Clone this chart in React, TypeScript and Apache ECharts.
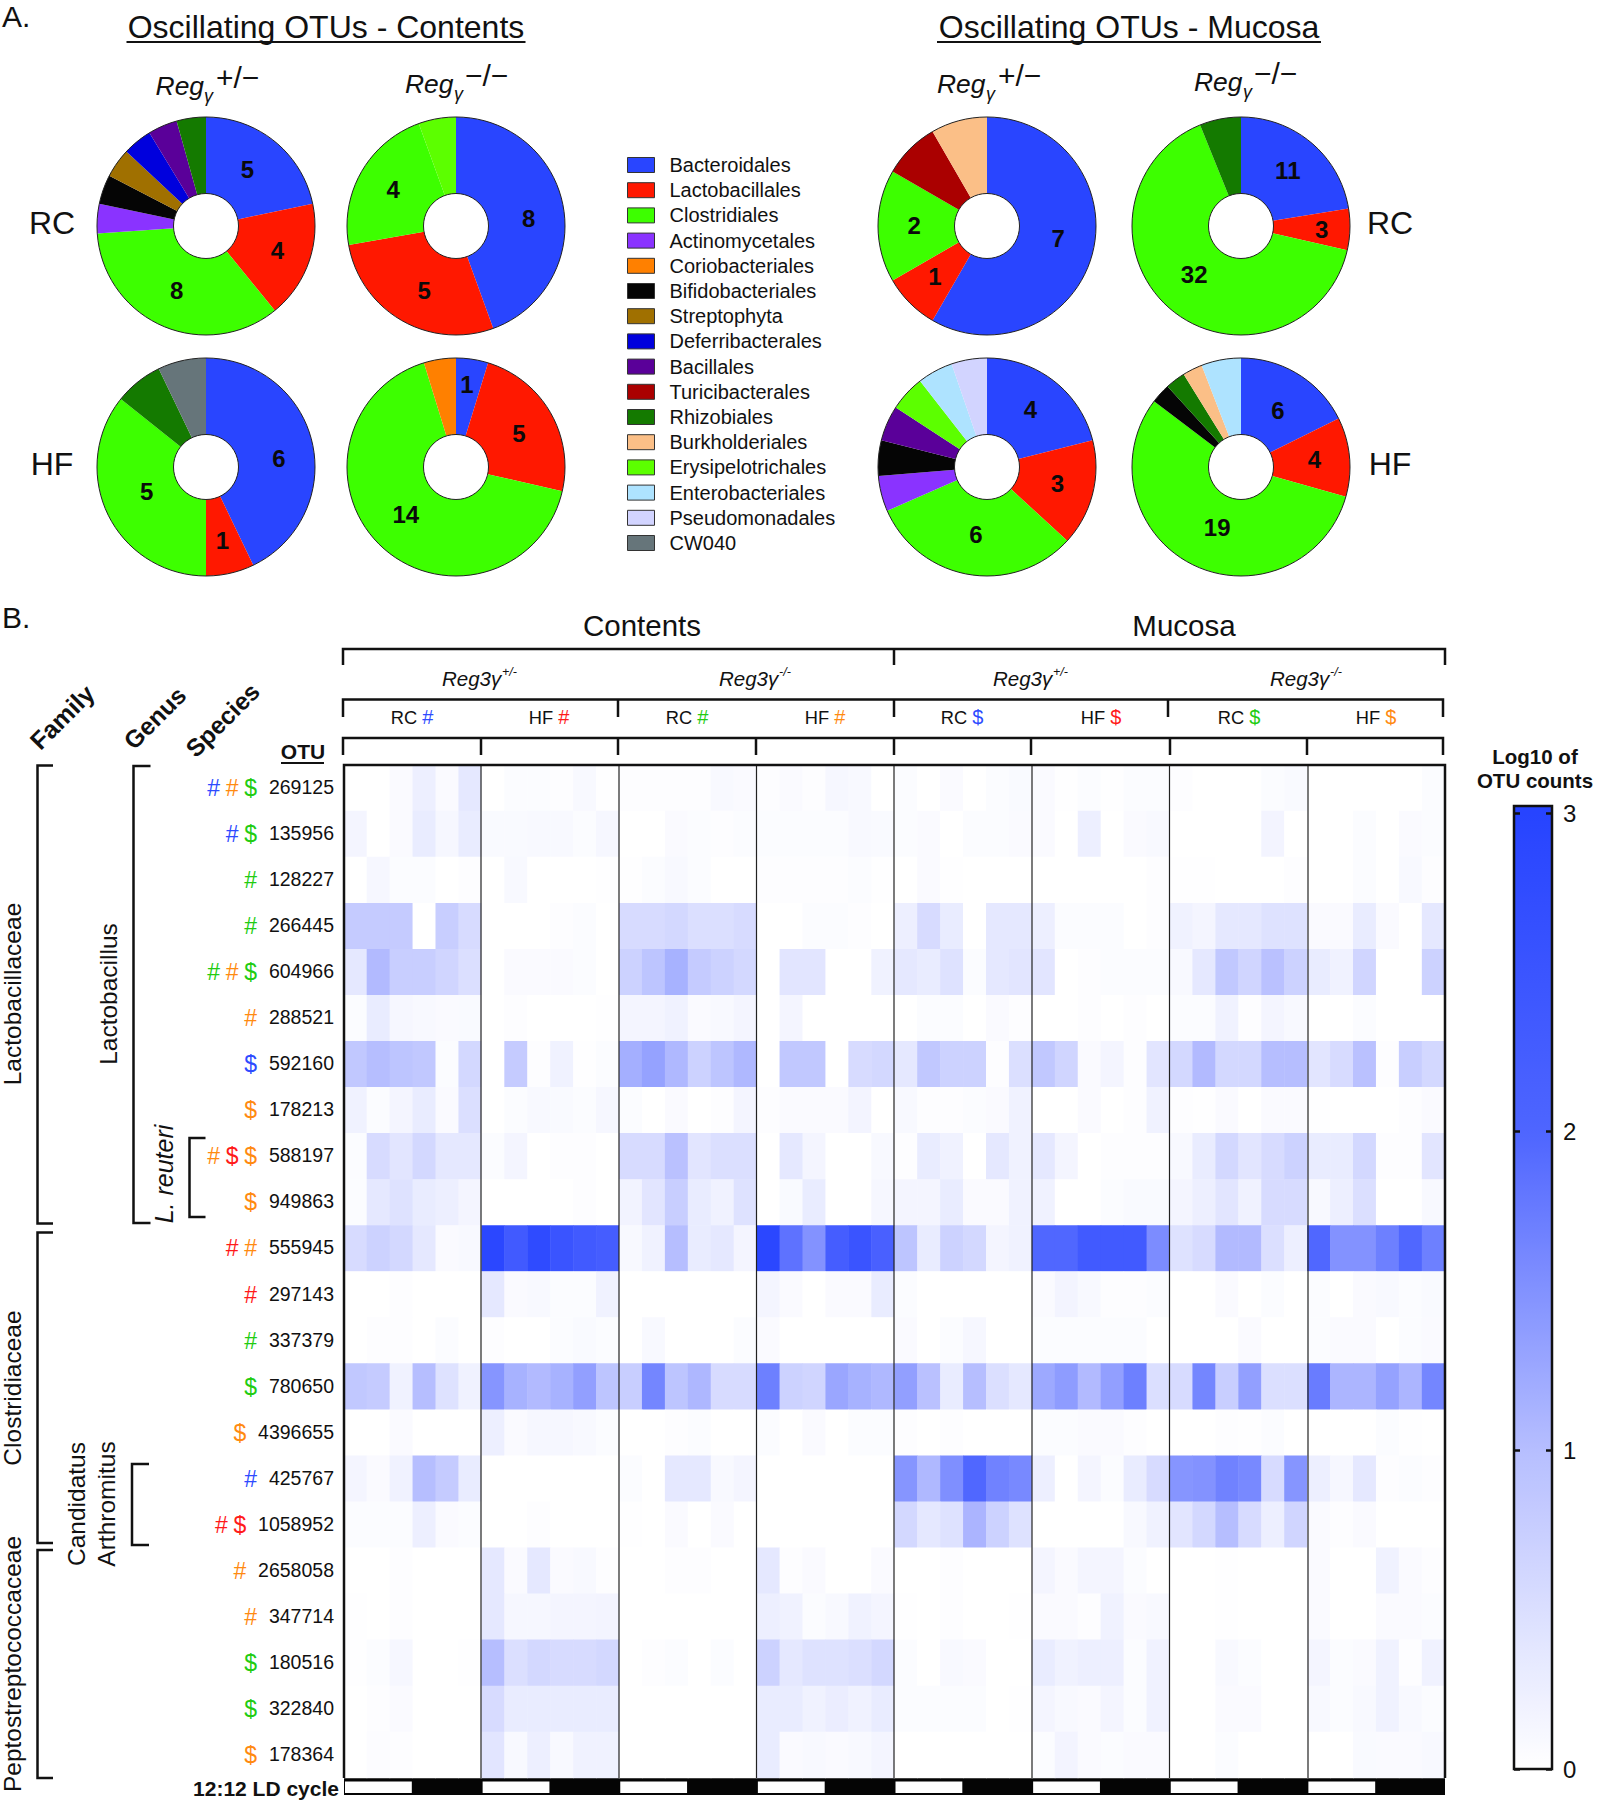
import React, { useEffect, useRef } from "react";
import * as echarts from "echarts";

const FONT = "'Liberation Sans', Arial, sans-serif";

// ---------- Panel A ----------
const orders = [
  "Bacteroidales", "Lactobacillales", "Clostridiales", "Actinomycetales",
  "Coriobacteriales", "Bifidobacteriales", "Streptophyta", "Deferribacterales",
  "Bacillales", "Turicibacterales", "Rhizobiales", "Burkholderiales",
  "Erysipelotrichales", "Enterobacteriales", "Pseudomonadales", "CW040",
];
const orderColors = [
  "#2945FF", "#FF1800", "#3DFF00", "#8A33FF", "#FF8000", "#050505", "#A07000", "#0000DD",
  "#5A0099", "#AA0000", "#147A00", "#FBBF87", "#5CFF00", "#AEE3FF", "#D2D4FF", "#66757A",
];
const contentsHetRC = [5, 4, 8, 1, 0, 1, 1, 1, 1, 0, 1, 0, 0, 0, 0, 0];
const contentsKoRC = [8, 5, 4, 0, 0, 0, 0, 0, 0, 0, 0, 0, 1, 0, 0, 0];
const contentsHetHF = [6, 1, 5, 0, 0, 0, 0, 0, 0, 0, 1, 0, 0, 0, 0, 1];
const contentsKoHF = [1, 5, 14, 0, 1, 0, 0, 0, 0, 0, 0, 0, 0, 0, 0, 0];
const mucosaHetRC = [7, 1, 2, 0, 0, 0, 0, 0, 0, 1, 0, 1, 0, 0, 0, 0];
const mucosaKoRC = [11, 3, 32, 0, 0, 0, 0, 0, 0, 0, 3, 0, 0, 0, 0, 0];
const mucosaHetHF = [4, 3, 6, 1, 0, 1, 0, 0, 1, 0, 0, 0, 1, 1, 1, 0];
const mucosaKoHF = [6, 4, 19, 0, 0, 1, 0, 0, 0, 0, 1, 1, 0, 2, 0, 0];

// ---------- Panel B ----------
const otus = [
  "269125", "135956", "128227", "266445", "604966", "288521", "592160", "178213", "588197", "949863", "555945",
  "297143", "337379", "780650", "4396655", "425767", "1058952", "2658058", "347714", "180516", "322840", "178364",
];
const otuMarks = [
  "hb ho dg", "hb dg", "hg", "hg", "hg ho dg", "ho", "db", "do", "ho dr do", "do", "hr ho",
  "hr", "hg", "dg", "do", "hb", "hr dr", "ho", "ho", "dg", "dg", "do",
];
const r269125 = [0,0,.07,.25,.07,.35, 0,.05,.05,.03,.1,.02, .03,.03,.03,.03,.1,.07, .03,.07,.03,.12,.1,0, .05,0,.07,0,.05,.08, .07,.02,.05,.02,.05,.05, .03,0,0,0,.05,.08, 0,0,0,0,0,.05];
const r135956 = [.15,0,.07,.3,.12,.3, .08,.08,.1,.1,.05,.12, 0,0,.07,.05,.03,.05, .05,.05,.05,.05,.1,.08, .05,.07,0,.05,.05,.07, .07,0,.25,0,.07,.1, 0,0,0,0,.17,0, 0,0,.05,0,.07,.05];
const r128227 = [0,.12,.05,.05,0,.03, 0,.1,0,0,0,.02, .02,.05,.1,.05,0,0, .03,.03,.03,.03,.05,.02, 0,.07,.02,0,0,0, 0,0,0,0,0,.03, .02,.02,0,0,0,.03, 0,0,.05,0,.1,.03];
const r266445 = [.8,.8,.8,0,.75,.55, 0,0,0,.03,.05,0, .55,.55,.6,.5,.5,.55, 0,0,.05,.05,.03,0, .25,.55,.3,0,.35,.35, .25,.05,.05,.05,0,.03, .2,.15,.35,.35,.45,.45, .07,.07,.3,.07,0,.35];
const r604966 = [.35,1.04,.75,.75,.65,.5, 0,.07,.07,.07,.05,0, .7,.9,1.14,.8,.7,.6, 0,.4,.4,0,0,.2, .35,.3,.45,.05,.35,.4, .4,0,.03,.05,.05,.05, .1,.35,.85,.65,.95,.7, .3,.2,.65,0,0,.7];
const r288521 = [.05,.3,.12,.1,.07,.08, 0,.03,0,0,0,.02, .15,.15,.2,.07,.1,.15, 0,.15,0,0,0,0, 0,.05,.05,0,.07,.03, 0,0,.03,0,.03,0, .05,.05,.2,.03,.15,.1, 0,0,.05,0,0,0];
const r592160 = [.85,1,.9,.85,.05,.6, 0,.8,.03,.2,.02,.05, 1.17,1.32,1.07,.7,.9,1.07, 0,.85,.85,0,.55,.6, .35,.85,.7,.7,.03,.5, .85,.65,.07,.15,.03,.4, .6,1.04,.6,.6,1,1, .4,.55,.95,.03,.75,.6];
const r178213 = [.2,.05,.15,.3,.07,.5, 0,.05,.1,.08,.05,.12, .05,0,.07,0,.03,.15, .03,.07,.07,.07,.17,0, .1,.03,.03,.05,.07,.2, 0,0,.07,0,.03,.2, .03,.02,.07,0,.07,.07, .02,0,0,0,.03,.07];
const r588197 = [.05,.55,.4,.6,.35,.35, .05,.15,0,.03,.03,0, .55,.55,.95,.4,.5,.5, 0,.35,.15,0,0,.1, .03,.3,.2,0,.35,.2, .35,.15,0,.03,.03,.03, .1,.3,.6,.4,.55,.7, .3,.3,.6,.03,.03,.4];
const r949863 = [.05,.35,.45,.3,.25,.15, 0,0,0,0,.03,0, .18,.4,.75,.3,.2,.45, 0,.08,.3,0,0,.12, .15,.15,.3,.07,.07,.2, .2,0,0,.05,.08,.08, .15,.25,.4,.2,.55,.55, .1,.25,.5,0,0,.1];
const r555945 = [.55,.7,.6,.35,.07,.1, 2.9,2.33,2.79,2.51,2.33,2.23, .1,.2,1,.3,.35,.15, 2.9,1.85,1.49,2.23,2.51,2.14, .9,.3,.7,.6,.15,.2, 1.98,1.98,2.33,2.33,2.33,1.56, .45,.55,1.04,1.04,.5,.25, 1.98,1.49,1.49,1.7,1.98,1.7];
const r297143 = [0,0,.03,0,0,0, .35,.07,.1,.05,.05,.2, 0,0,0,0,0,0, .15,.07,0,.07,.07,.3, .05,0,0,0,0,0, .07,.17,.1,.03,.03,.05, 0,0,.07,0,.05,0, .05,0,.07,.1,.05,.08];
const r337379 = [0,.03,.03,0,.05,0, .03,0,0,.05,.08,.05, 0,.1,0,0,0,.05, .07,0,0,0,0,0, .07,0,.05,.12,0,0, .05,.05,.05,.05,.05,0, 0,0,0,.07,0,0, .05,.07,.07,0,.05,.07];
const r780650 = [.85,.8,.2,1,.45,.2, 1.46,1.14,1.04,1.14,1.35,.9, .75,1.63,.9,1.08,.55,.55, 1.7,.7,.65,1.27,1.14,1.07, 1.35,.95,.3,1,.5,.35, 1.24,1.38,1.04,1.35,1.7,.5, .55,1.63,.75,1.35,.5,.5, 1.74,1.1,1.1,1.32,1.1,1.63];
const r4396655 = [0,0,.07,0,0,0, .25,.07,.12,.12,.1,.05, 0,0,.03,.05,0,0, .05,0,.07,0,.05,.05, .03,0,.03,0,0,0, .05,.05,.07,.07,.03,0, 0,0,.03,.01,.05,0, 0,0,0,.05,.02,0];
const r425767 = [.15,.07,.2,1,.8,.3, 0,0,0,0,0,0, .05,0,.35,.35,.1,.15, 0,0,0,0,0,0, 1.46,1.07,1.53,1.98,1.67,1.6, .25,0,.15,.05,.3,.55, 1.46,1.49,1.67,1.6,.55,1.46, .25,.12,.35,.03,.05,.03];
const r1058952 = [.05,.05,.05,.25,.07,.05, 0,0,.03,0,0,0, .02,0,.07,0,.07,0, 0,0,0,0,0,0, .6,.35,.45,1.11,.7,.45, 0,0,0,0,.1,.2, .4,.6,1,.55,.25,.65, .07,.03,.07,0,0,0];
const r2658058 = [0,0,.03,0,0,0, .35,.07,.35,.07,.1,.03, 0,0,.03,.03,0,0, .35,.03,.07,0,0,.07, 0,0,.03,0,0,0, .15,.07,.15,.15,.05,0, 0,0,.02,0,0,0, .07,0,0,.2,.07,.03];
const r347714 = [.02,0,.03,0,0,0, .35,.12,.12,.15,.15,.17, 0,0,0,0,0,0, .25,.2,.05,.1,.2,.15, .02,0,.03,0,0,.02, .07,.07,.03,.2,.07,.1, 0,0,.02,0,0,0, .07,0,0,.07,.07,.05];
const r180516 = [.02,.05,.12,0,0,.02, 1,.5,.6,.55,.55,.6, 0,.03,.05,0,.05,0, .7,.35,.45,.45,.5,.6, .05,0,.1,.07,0,0, .3,.2,.25,.25,.05,.2, 0,0,.1,.05,0,0, .15,.05,.07,.2,.03,.2];
const r322840 = [0,.03,.07,0,0,0, .55,.3,.3,.3,.3,.3, 0,0,0,0,0,0, .3,.3,.2,.27,.2,.3, .05,.05,.05,.05,0,.02, .15,.1,.07,.15,.05,.2, 0,0,.07,.07,0,0, .1,.05,.1,.2,.1,.05];
const r178364 = [0,.04,.03,0,0,0, .4,.1,.25,.1,.2,.2, 0,0,0,0,0,0, .3,.07,.1,.07,.1,.15, 0,0,0,0,0,0, .05,.17,.07,.05,.07,.07, 0,0,.05,0,0,0, 0,0,.08,.07,.07,.1];
const heatRows = [
  r269125, r135956, r128227, r266445, r604966, r288521, r592160, r178213, r588197, r949863, r555945,
  r297143, r337379, r780650, r4396655, r425767, r1058952, r2658058, r347714, r180516, r322840, r178364,
];
const lightPhases = [[0, 3], [6, 9], [12, 15], [18, 21], [24, 27], [30, 33], [36, 39], [42, 45]];
const colorbarTicks = ["0", "1", "2", "3"];

const HX = 344, HY = 765, HW = 1101, HH = 1013;
const BLUE = "#2E4BFF", ORANGE = "#FF8A10", GREEN = "#22CC11", RED = "#FF1A1A";

function T(text: string, x: number, y: number, size: number, o: any = {}) {
  return {
    type: "text", x, y, z: 20, rotation: o.rotation || 0, silent: true,
    style: {
      text, fontSize: size, fontFamily: FONT, fill: o.fill || "#111",
      fontWeight: o.bold ? "bold" : "normal", fontStyle: o.italic ? "italic" : "normal",
      textAlign: o.align || "center", textVerticalAlign: "middle", verticalAlign: "middle", rich: o.rich,
    },
  };
}
function L(points: number[][], w = 2.5, color = "#111") {
  return { type: "polyline", z: 20, silent: true, shape: { points }, style: { stroke: color, lineWidth: w, fill: "none" } };
}
const marksRich = {
  b: { fill: BLUE, fontSize: 20, fontFamily: FONT },
  r: { fill: RED, fontSize: 20, fontFamily: FONT },
  g: { fill: GREEN, fontSize: 20, fontFamily: FONT },
  o: { fill: ORANGE, fontSize: 20, fontFamily: FONT },
  t: { fill: "#111", fontSize: 18.3, fontFamily: FONT },
};

const pieCenters = [
  [206, 226], [456, 226], [206, 467], [456, 467],
  [987, 226], [1241, 226], [987, 467], [1241, 467],
];
const pieValues = [
  contentsHetRC, contentsKoRC, contentsHetHF, contentsKoHF,
  mucosaHetRC, mucosaKoRC, mucosaHetHF, mucosaKoHF,
];
// label tweaks per pie, for the three labelled slices (dx, dy)
const pieLabelNudge = [
  [[-5, 1], [2, 0], [0, -3]], [[0, 5], [5, 1], [1, 0]],
  [[1, 8], [0, 2], [7, -7]], [[0, -10], [-1, 3], [0, -7]],
  [[0, -7], [0, -2], [1, -1]], [[-1, 1], [7, 1], [1, -8]],
  [[-2, 1], [-1, -2], [1, -5]], [[-2, 6], [0, -1], [9, -6]],
];

function buildGraphic() {
  const g: any[] = [];
  g.push(T("A.", 2, 16, 30, { align: "left" }));
  g.push(T("B.", 2, 617, 30, { align: "left" }));
  g.push(T("Oscillating OTUs - Contents", 326, 27, 32));
  g.push(L([[126.5, 42], [525.5, 42]], 2));
  g.push(T("Oscillating OTUs - Mucosa", 1129, 27, 32));
  g.push(L([[937, 42], [1321, 42]], 2));
  const heads = [
    [155.6, 86, 204, 96, 216, 77, "+/−"],
    [405, 84, 454, 94, 465, 75, "−/−"],
    [937, 84, 986, 94, 998, 75, "+/−"],
    [1194, 81.5, 1243, 91.5, 1254, 73, "−/−"],
  ] as any[];
  heads.forEach((h) => {
    g.push(T("Reg", h[0], h[1], 26.4, { align: "left", italic: true }));
    g.push(T("γ", h[2], h[3], 18, { align: "left", italic: true }));
    g.push(T(h[6], h[4], h[5], 30, { align: "left" }));
  });
  g.push(T("RC", 52, 223, 32)); g.push(T("HF", 52, 464, 32));
  g.push(T("RC", 1390, 223, 32)); g.push(T("HF", 1390, 464, 32));
  pieCenters.forEach((c) => {
    [109, 32.5].forEach((r) => g.push({
      type: "circle", z: 20, silent: true, shape: { cx: c[0], cy: c[1], r },
      style: { fill: "none", stroke: "#222", lineWidth: 1 },
    }));
  });

  g.push(T("Contents", 642, 625, 29.5)); g.push(T("Mucosa", 1184, 625, 29.5));
  g.push(L([[343, 665], [343, 649], [1445, 649], [1445, 665]]));
  g.push(L([[894, 649], [894, 665]]));
  g.push(L([[343, 717], [343, 699.5], [1443, 699.5], [1443, 717]]));
  [618, 894, 1168].forEach((x) => g.push(L([[x, 699.5], [x, 717]])));
  g.push(L([[343, 755], [343, 738], [1443, 738], [1443, 755]]));
  [481, 618, 756, 894, 1031, 1170, 1307].forEach((x) => g.push(L([[x, 738], [x, 755]])));
  [[442, "+/-"], [719, "-/-"], [993, "+/-"], [1270, "-/-"]].forEach((p: any) => {
    g.push(T("Reg3γ", p[0], 678, 20.5, { align: "left", italic: true }));
    g.push(T(p[1], p[0] + 60, 672, 12.5, { align: "left", italic: true }));
  });
  const groupHeads = [
    [412, "RC", "#", "b"], [549, "HF", "#", "r"], [687, "RC", "#", "g"], [825, "HF", "#", "o"],
    [962, "RC", "$", "b"], [1101, "HF", "$", "r"], [1239, "RC", "$", "g"], [1376, "HF", "$", "o"],
  ] as any[];
  groupHeads.forEach((h) => {
    g.push(T(`{t|${h[1]}} {${h[3]}|${h[2]}}`, h[0], 717, 18.3, { rich: marksRich }));
  });
  g.push(T("OTU", 303, 751, 21, { bold: true }));
  g.push(L([[281, 763], [324, 763]], 2));
  g.push(T("Family", 62, 717, 25, { bold: true, rotation: Math.PI / 4 }));
  g.push(T("Genus", 155, 718, 24.5, { bold: true, rotation: Math.PI / 4 }));
  g.push(T("Species", 222.7, 720, 24.5, { bold: true, rotation: Math.PI / 4 }));

  const v = Math.PI / 2;
  g.push(T("Lactobacillaceae", 12.6, 994, 24.5, { rotation: v }));
  g.push(T("Clostridiaceae", 12.6, 1388, 24.5, { rotation: v }));
  g.push(T("Peptostreptococcaceae", 12.6, 1664, 24.5, { rotation: v }));
  g.push(T("Lactobacillus", 108, 994, 24.5, { rotation: v }));
  g.push(T("L. reuteri", 164, 1174, 25, { rotation: v, italic: true }));
  g.push(T("Candidatus", 76, 1504, 24.5, { rotation: v }));
  g.push(T("Arthromitus", 106, 1504, 24.5, { rotation: v }));
  g.push(L([[53, 765.5], [37.5, 765.5], [37.5, 1223.5], [53, 1223.5]]));
  g.push(L([[53, 1232.5], [37.5, 1232.5], [37.5, 1543], [53, 1543]]));
  g.push(L([[53, 1550], [37.5, 1550], [37.5, 1778], [53, 1778]]));
  g.push(L([[150.5, 766], [133.5, 766], [133.5, 1223], [150.5, 1223]]));
  g.push(L([[205.5, 1138], [189.5, 1138], [189.5, 1217], [205.5, 1217]]));
  g.push(L([[149, 1464], [132, 1464], [132, 1545], [149, 1545]]));

  [481, 619, 756.5, 894, 1032, 1169.5, 1308].forEach((x) => g.push(L([[x, HY], [x, HY + HH]], 1.2, "#222")));
  g.push(L([[HX, HY + HH], [HX, HY], [HX + HW, HY], [HX + HW, HY + HH]], 2.5));
  g.push(T("12:12 LD cycle", 339, 1788, 21, { bold: true, align: "right" }));

  g.push(T("Log10 of", 1535, 756, 20.5, { bold: true }));
  g.push(T("OTU counts", 1535, 780.5, 20.5, { bold: true }));
  g.push({ type: "rect", z: 4, silent: true, shape: { x: 1514, y: 806, width: 38, height: 8 }, style: { fill: "#2744FF" } });
  g.push({ type: "rect", z: 20, silent: true, shape: { x: 1514, y: 806, width: 38, height: 963 }, style: { fill: "none", stroke: "#111", lineWidth: 2.5 } });
  return g;
}

function otuLabel(value: string, index: number) {
  const marks = otuMarks[index].split(" ").map((m) => `{${m}|${m[0] === "h" ? "#" : "$"}}`).join("");
  return `${marks}{n|${value}}`;
}
const mk = (color: string) => ({ color, fontSize: 23, fontFamily: FONT, width: 18.5, align: "center" });
const otuRich = {
  hb: mk(BLUE), hr: mk(RED), hg: mk(GREEN), ho: mk(ORANGE),
  db: mk(BLUE), dr: mk(RED), dg: mk(GREEN), do: mk(ORANGE),
  n: { color: "#111", fontSize: 19.5, fontFamily: FONT, padding: [0, 0, 2, 9] },
};

function buildOption() {
  const cols = heatRows[0].map((_, i) => String(i));
  const heatData: number[][] = [];
  heatRows.forEach((row, y) => row.forEach((val, x) => heatData.push([x, y, val])));
  const hide = { axisLine: { show: false }, axisTick: { show: false }, axisLabel: { show: false }, splitLine: { show: false } };

  const pies = pieValues.map((vals, i) => ({
    type: "pie", center: pieCenters[i], radius: [32.5, 109], silent: true,
    startAngle: 90, clockwise: true, avoidLabelOverlap: false, animation: false,
    itemStyle: { borderWidth: 0 },
    labelLine: { show: false },
    labelLayout: (p: any) => {
      const n = pieLabelNudge[i][p.dataIndex];
      return n ? { dx: n[0], dy: n[1] } : {};
    },
    data: vals.map((v, k) => ({
      name: orders[k], value: v,
      itemStyle: { color: orderColors[k] },
      label: { show: k < 3, position: "inside", formatter: "{c}", color: "#0a0a0a", fontSize: 24, fontWeight: "bold", fontFamily: FONT },
    })).filter((d) => d.value > 0),
  }));

  return {
    animation: false,
    textStyle: { fontFamily: FONT },
    grid: [
      { left: HX, top: HY, width: HW, height: HH },
      { left: HX, top: HY + HH, width: HW, height: 17, show: true, backgroundColor: "#050505", borderWidth: 0 },
      { left: 1514, top: 813, width: 38, height: 956 },
    ],
    xAxis: [
      { type: "category", data: cols, gridIndex: 0, ...hide },
      { type: "value", min: 0, max: 48, gridIndex: 1, ...hide },
      { type: "value", min: 0, max: 1, gridIndex: 2, ...hide },
    ],
    yAxis: [
      {
        type: "category", data: otus, inverse: true, gridIndex: 0,
        axisLine: { show: false }, axisTick: { show: false }, splitLine: { show: false },
        axisLabel: { margin: 10, interval: 0, formatter: otuLabel, rich: otuRich },
      },
      { type: "value", min: 0, max: 1, gridIndex: 1, ...hide },
      {
        type: "value", min: 0, max: 3, interval: 1, gridIndex: 2, position: "left", z: 10,
        axisLine: { show: false }, splitLine: { show: false }, axisLabel: { show: false },
        axisTick: { show: true, inside: true, length: 6, lineStyle: { color: "#111", width: 2.5 } },
      },
      {
        type: "value", min: 0, max: 3, interval: 1, gridIndex: 2, position: "right", z: 10,
        axisLine: { show: false }, splitLine: { show: false },
        axisTick: { show: true, inside: true, length: 6, lineStyle: { color: "#111", width: 2.5 } },
        axisLabel: { margin: 11, fontSize: 24, color: "#111", fontFamily: FONT, formatter: (v: number) => colorbarTicks[v] },
      },
    ],
    legend: {
      orient: "vertical", left: 627, top: 155, padding: 0, selectedMode: false,
      itemWidth: 27, itemHeight: 15, itemGap: 5.2, icon: "rect", data: orders,
      itemStyle: { borderColor: "#333", borderWidth: 1 },
      textStyle: { fontSize: 20, color: "#111", fontFamily: FONT, padding: [0, 0, 0, 10] },
    },
    visualMap: {
      type: "continuous", seriesIndex: 0, min: 0, max: 3, left: 1514, top: 813, padding: 0,
      itemWidth: 38, itemHeight: 956, calculable: false, hoverLink: false, text: ["", ""], showLabel: false,
      inRange: { color: ["#ffffff", "#B6BEFF", "#4E65FF", "#2744FF"] },
    },
    series: [
      {
        type: "heatmap", data: heatData, xAxisIndex: 0, yAxisIndex: 0, silent: true,
        itemStyle: { borderWidth: 0 }, emphasis: { disabled: true }, progressive: 0,
      },
      {
        type: "custom", xAxisIndex: 1, yAxisIndex: 1, silent: true, data: lightPhases, encode: { x: [0, 1] },
        renderItem: (_: any, api: any) => {
          const a = api.coord([api.value(0), 1]);
          const b = api.coord([api.value(1), 0]);
          return {
            type: "rect",
            shape: { x: a[0] + 1, y: a[1] + 3.5, width: b[0] - a[0] - 2, height: b[1] - a[1] - 5.5 },
            style: { fill: "#fff" },
          };
        },
      },
      ...pies,
    ],
    graphic: { elements: buildGraphic() },
  };
}

export default function App() {
  const ref = useRef<HTMLDivElement>(null);
  useEffect(() => {
    const chart = echarts.init(ref.current!, null, { renderer: "svg" });
    chart.setOption(buildOption() as any);
    return () => chart.dispose();
  }, []);
  return <div ref={ref} style={{ position: "absolute", left: 0, top: 0, width: 1597, height: 1800, background: "#fff" }} />;
}
